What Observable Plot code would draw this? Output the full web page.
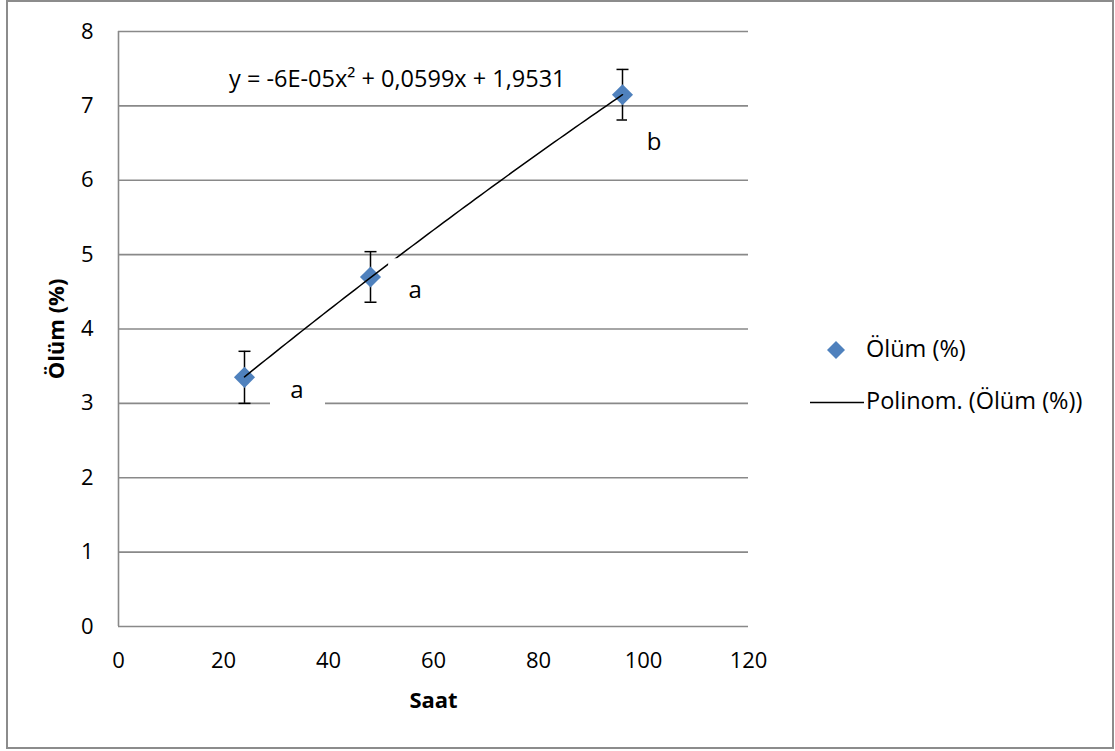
<!DOCTYPE html>
<html>
<head>
<meta charset="utf-8">
<script src="https://cdn.jsdelivr.net/npm/d3@7"></script>
<script src="https://cdn.jsdelivr.net/npm/@observablehq/plot@0.6"></script>
<style>
  html, body { margin: 0; padding: 0; background: #fff; }
  #wrap { position: relative; width: 1115px; height: 751px; font-family: "Open Sans", sans-serif; }
  #chart { position: absolute; left: 0; top: 0; }
  #frame { position: absolute; left: 6px; top: 0px; width: 1104px; height: 745px; border: 2px solid #8c8c8c; pointer-events: none; }
  .leg { position: absolute; font-size: 23.5px; color: #000; white-space: nowrap; line-height: 1; }
</style>
</head>
<body>
<div id="wrap">
  <div id="chart"></div>
  <div id="frame"></div>
  <div id="legend"></div>
</div>
<script>
// ---- data ----
const hours = [24, 48, 96];                 // Saat
const mortality = [3.35, 4.70, 7.15];       // Ölüm (%)
const errors = [0.35, 0.34, 0.34];          // error bar half-length
const groupLetters = ["a", "a", "b"];
const letterX = [34, 56.5, 102];
const letterY = [3.17, 4.52, 6.51];
const polyCoef = [1.9531, 0.0599, -6e-5];   // c0 + c1 x + c2 x^2
const equationText = "y = -6E-05x² + 0,0599x + 1,9531";
const equationPos = [53.1, 7.36];
const xTicks = [0, 20, 40, 60, 80, 100, 120];
const yTicks = [0, 1, 2, 3, 4, 5, 6, 7, 8];
const seriesName = "Ölüm (%)";
const trendName = "Polinom. (Ölüm (%))";
const xTitle = "Saat";
const yTitle = "Ölüm (%)";

// ---- derived tables ----
const points = hours.map((h, i) => ({x: h, y: mortality[i], lo: mortality[i] - errors[i], hi: mortality[i] + errors[i]}));
const caps = points.flatMap(p => [{x: p.x, y: p.lo}, {x: p.x, y: p.hi}]);
const letters = groupLetters.map((t, i) => ({t, x: letterX[i], y: letterY[i]}));
const trend = d3.range(d3.min(hours), d3.max(hours) + 0.5, 1).map(x => ({x, y: polyCoef[0] + polyCoef[1] * x + polyCoef[2] * x * x}));

const blue = "#4F81BD";
const gridColor = "#898989";

const capSymbol = {draw(ctx) { ctx.moveTo(-6, 0); ctx.lineTo(6, 0); }};
const boxSymbol = {draw(ctx) { ctx.rect(-27, -32, 55, 64); }};

const chart = Plot.plot({
  width: 1115,
  height: 751,
  marginLeft: 118,
  marginRight: 367,
  marginTop: 31,
  marginBottom: 125,
  style: {fontFamily: "Open Sans, sans-serif", fontSize: "22px", color: "#000", background: "transparent", overflow: "visible"},
  x: {domain: [0, 120]},
  y: {domain: [0, 8]},
  marks: [
    Plot.ruleY(yTicks, {stroke: gridColor, strokeWidth: 1.6}),
    Plot.ruleX([0], {stroke: gridColor, strokeWidth: 1.6}),
    Plot.axisY({ticks: yTicks, tickSize: 0, tickPadding: 25, label: null, fontSize: 22}),
    Plot.axisX({ticks: xTicks, tickSize: 0, tickPadding: 26, label: null, fontSize: 22}),
    Plot.ruleX(points, {x: "x", y1: "lo", y2: "hi", stroke: "#000", strokeWidth: 1.5}),
    Plot.dot(caps, {x: "x", y: "y", symbol: capSymbol, fill: "none", stroke: "#000", strokeWidth: 1.5}),
    Plot.dot(points, {x: "x", y: "y", symbol: "diamond2", r: 9.5, fill: blue, stroke: "none"}),
    Plot.line(trend, {x: "x", y: "y", stroke: "#000", strokeWidth: 1.5}),
    Plot.dot(letters, {x: "x", y: "y", symbol: boxSymbol, fill: "#fff", stroke: "none"}),
    Plot.text(letters, {x: "x", y: "y", text: "t", fontSize: 24, fill: "#000"}),
    Plot.text([equationText], {x: () => equationPos[0], y: () => equationPos[1], text: d => d, fontSize: 23.5, fill: "#000"}),
    Plot.text([xTitle], {frameAnchor: "bottom", dy: 74, lineAnchor: "middle", textAnchor: "middle", text: d => d, fontWeight: "bold", fontSize: 22, fill: "#000"}),
    Plot.text([yTitle], {frameAnchor: "left", dx: -62, rotate: -90, textAnchor: "middle", lineAnchor: "middle", text: d => d, fontWeight: "bold", fontSize: 22, fill: "#000"})
  ]
});
document.getElementById("chart").appendChild(chart);

// ---- legend ----
const legend = document.getElementById("legend");
legend.innerHTML = `
  <svg style="position:absolute;left:826px;top:340px" width="20" height="20"><path d="M10,1L19,10L10,19L1,10Z" fill="${blue}"/></svg>
  <div class="leg" style="left:866px;top:337px">${seriesName}</div>
  <svg style="position:absolute;left:810px;top:401px" width="54" height="3"><line x1="0" x2="54" y1="1.5" y2="1.5" stroke="#000" stroke-width="1.5"/></svg>
  <div class="leg" style="left:866px;top:389px">${trendName}</div>
`;
</script>
</body>
</html>
